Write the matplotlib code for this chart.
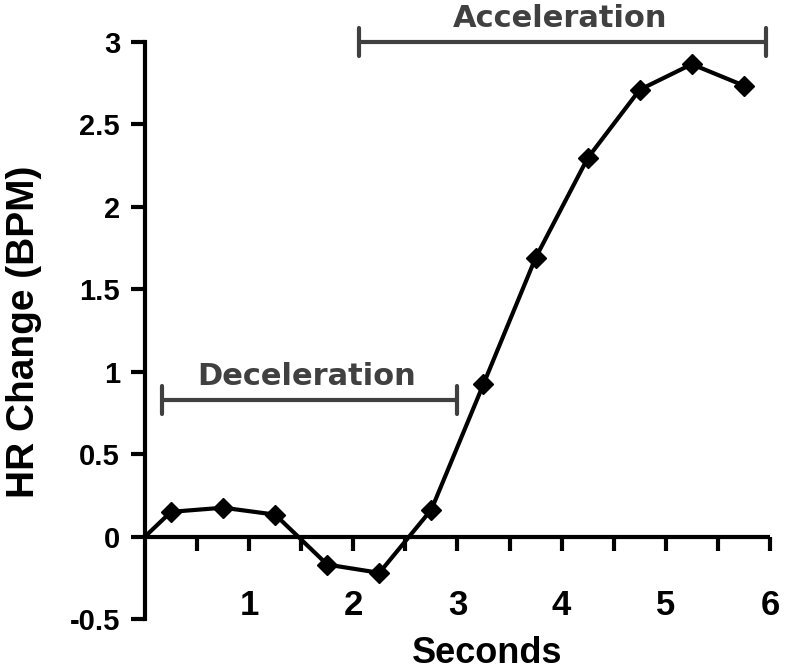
import matplotlib
matplotlib.use("Agg")
import matplotlib.pyplot as plt
import numpy as np

# ---- data ----
seconds = [0.0, 0.25, 0.75, 1.25, 1.75, 2.25, 2.75, 3.25, 3.75, 4.25, 4.75, 5.25, 5.75]
hr_change = [0.0, 0.15, 0.175, 0.133, -0.17, -0.22, 0.164, 0.925, 1.69, 2.295, 2.71, 2.865, 2.735]
x_ticks = [1, 2, 3, 4, 5, 6]
x_minor = [0.5, 1.5, 2.5, 3.5, 4.5, 5.5]
y_ticks = [-0.5, 0, 0.5, 1, 1.5, 2, 2.5, 3]
y_ticklabels = ["-0.5", "0", "0.5", "1", "1.5", "2", "2.5", "3"]
decel_span = (0.16, 3.0)
decel_level = 0.83
accel_span = (2.05, 5.96)
accel_level = 3.0
decel_label = "Deceleration"
accel_label = "Acceleration"

plt.rcParams['font.family'] = ['Liberation Sans', 'DejaVu Sans']
plt.rcParams['font.weight'] = 'bold'

fig = plt.figure(figsize=(7.86, 6.71), dpi=100)
ax = fig.add_axes([0.1845, 0.0775, 0.795, 0.86])

lw = 3.0
ax.plot(seconds, hr_change, color='black', lw=lw, zorder=3, clip_on=False)
ax.plot(seconds[1:], hr_change[1:], linestyle='none', marker='D', ms=10.5,
        color='black', zorder=4, clip_on=False)

ax.set_xlim(0, 6)
ax.set_ylim(-0.5, 3)

for s in ['top', 'right']:
    ax.spines[s].set_visible(False)
ax.spines['bottom'].set_position(('data', 0))
ax.spines['bottom'].set_linewidth(lw)
ax.spines['left'].set_linewidth(lw)
ax.spines['bottom'].set_capstyle('butt')

ax.set_xticks(x_ticks)
ax.set_xticks(x_minor, minor=True)
ax.set_xticklabels([str(t) for t in x_ticks], fontsize=25, fontweight='bold')
ax.tick_params(axis='x', which='both', direction='out', length=10, width=lw, pad=28)
ax.set_yticks(y_ticks)
ax.set_yticklabels(y_ticklabels, fontsize=21, fontweight='bold')
ax.tick_params(axis='y', which='both', direction='out', length=10, width=lw, pad=8)

ax.set_xlabel("Seconds", fontsize=26, fontweight='bold')
ax.xaxis.set_label_coords(0.548, -0.03)
ax.set_ylabel("HR Change (BPM)", fontsize=28, fontweight='bold')
ax.yaxis.set_label_coords(-0.165, 0.497)

bracket_color = '#404040'
cap = 0.085
for (x0, x1), lev in [(decel_span, decel_level), (accel_span, accel_level)]:
    ax.plot([x0, x1], [lev, lev], color=bracket_color, lw=3.0, clip_on=False, solid_capstyle='butt')
    ax.plot([x0, x0], [lev - cap, lev + cap], color=bracket_color, lw=3.0, clip_on=False, solid_capstyle='round')
    ax.plot([x1, x1], [lev - cap, lev + cap], color=bracket_color, lw=3.0, clip_on=False, solid_capstyle='round')

ax.text(1.55, 0.92, decel_label, ha='center', va='baseline', fontsize=22,
        fontweight='bold', color=bracket_color, family='DejaVu Sans', clip_on=False)
ax.text(3.99, 3.09, accel_label, ha='center', va='baseline', fontsize=22,
        fontweight='bold', color=bracket_color, family='DejaVu Sans', clip_on=False)

fig.savefig("out.png", dpi=100)
